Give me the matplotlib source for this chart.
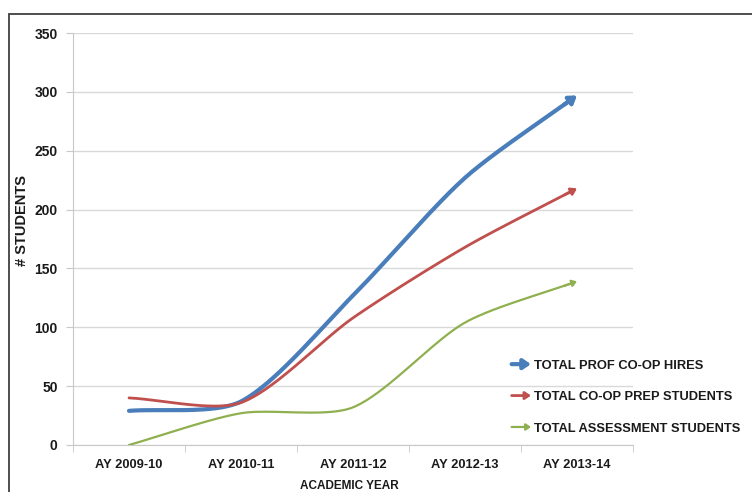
import numpy as np
import matplotlib
matplotlib.use("Agg")
import matplotlib.pyplot as plt
from matplotlib.patches import FancyArrowPatch, Rectangle
from matplotlib.legend_handler import HandlerBase

plt.rcParams['font.family'] = ['Liberation Sans', 'DejaVu Sans']

years = ["AY 2009-10", "AY 2010-11", "AY 2011-12", "AY 2012-13", "AY 2013-14"]
prof_hires = [29, 37, 127, 227, 297]
prep_students = [40, 36, 108, 168, 218]
assessment_students = [0, 27, 32, 104, 139]

series = [
    ("TOTAL PROF CO-OP HIRES", prof_hires, "#4a7ebb", 3.0, 13),
    ("TOTAL CO-OP PREP STUDENTS", prep_students, "#c0504d", 2.0, 10),
    ("TOTAL ASSESSMENT STUDENTS", assessment_students, "#8fb04f", 1.6, 8.5),
]

# pixel size of one category and one student on the axes, used for smoothing
X_PX, Y_PX = 112.0, 412.0 / 350


def smooth(xs, ys, k=0.8, steps=40):
    # bezier spline with chord-weighted tangents, worked out in pixel space
    p = np.column_stack([np.asarray(xs) * X_PX, np.asarray(ys) * Y_PX]).astype(float)
    n = len(p)
    d = np.hypot(*np.diff(p, axis=0).T)
    tan = np.zeros_like(p)
    for i in range(n):
        a, b = max(i - 1, 0), min(i + 1, n - 1)
        tan[i] = p[b] - p[a]
    out = []
    t = np.linspace(0, 1, steps)[:, None]
    for i in range(n - 1):
        p1, p2 = p[i], p[i + 1]
        if i == 0:
            c1 = p1 + k * (p2 - p1) / 3
        else:
            c1 = p1 + k * tan[i] * d[i] / (d[i - 1] + d[i]) / 3
        if i == n - 2:
            c2 = p2 - k * (p2 - p1) / 3
        else:
            c2 = p2 - k * tan[i + 1] * d[i] / (d[i] + d[i + 1]) / 3
        seg = ((1 - t) ** 3) * p1 + 3 * ((1 - t) ** 2) * t * c1 + 3 * (1 - t) * t ** 2 * c2 + t ** 3 * p2
        out.append(seg if i == 0 else seg[1:])
    out = np.vstack(out)
    return out[:, 0] / X_PX, out[:, 1] / Y_PX


def arrow_style(head):
    return "-|>,head_length=%.2f,head_width=%.2f" % (head / 30, head / 45)


class ArrowHandler(HandlerBase):
    def create_artists(self, legend, orig_handle, xdescent, ydescent,
                       width, height, fontsize, trans):
        color, lw, head = orig_handle
        y = height / 2 - ydescent
        a = FancyArrowPatch((-xdescent, y), (-xdescent + width, y),
                            arrowstyle=arrow_style(head), color=color, lw=lw,
                            mutation_scale=10, shrinkA=0, shrinkB=0, transform=trans)
        return [a]


fig = plt.figure(figsize=(7.52, 4.92), dpi=100)
fig.patches.append(Rectangle((9 / 752, -0.05), 1.0, 1 - 14 / 492 + 0.05,
                             transform=fig.transFigure, fill=False,
                             edgecolor="#404040", lw=1.3))

ax = fig.add_axes([73 / 752, 47 / 492, 560 / 752, 412 / 492])
x = np.arange(len(years))

handles = []
for name, vals, color, lw, head in series:
    sx, sy = smooth(x, vals)
    ax.plot(sx[:-3], sy[:-3], color=color, lw=lw, solid_capstyle="round", zorder=3)
    ax.annotate("", xy=(sx[-1], sy[-1]), xytext=(sx[-6], sy[-6]),
                arrowprops=dict(arrowstyle=arrow_style(head), color=color, lw=lw,
                                shrinkA=0, shrinkB=0, mutation_scale=10),
                zorder=4)
    handles.append((color, lw, head))

ax.set_xlim(-0.5, len(years) - 0.5)
ax.set_ylim(0, 350)
ax.set_yticks(np.arange(0, 351, 50))
ax.set_xticks(x)
ax.set_xticklabels(years, fontsize=9.3, fontweight="bold", color="#1a1a1a")
ax.set_xticks(np.arange(-0.5, len(years), 1), minor=True)
ax.tick_params(axis="x", which="major", length=0, pad=10)
ax.tick_params(axis="x", which="minor", length=5, color="#c8c8c8", direction="out")
ax.tick_params(axis="y", length=5, color="#c8c8c8", pad=6, labelsize=10)
for lab in ax.get_yticklabels():
    lab.set_fontweight("bold")
    lab.set_color("#1a1a1a")

ax.grid(axis="y", color="#d9d9d9", lw=1.0)
ax.set_axisbelow(True)
for side in ["top", "right"]:
    ax.spines[side].set_visible(False)
for side in ["left", "bottom"]:
    ax.spines[side].set_color("#c8c8c8")

fig.text(22 / 752, 1 - 221 / 492, "# STUDENTS", rotation=90, ha="center", va="center",
         fontsize=10.5, fontweight="bold", color="#1a1a1a")
fig.text(349 / 752, 1 - 486 / 492, "ACADEMIC YEAR", ha="center", va="center",
         fontsize=8.5, fontweight="bold", color="#1a1a1a")

leg = fig.legend(handles, [s[0] for s in series],
                 handler_map={tuple: ArrowHandler()},
                 loc="upper left", bbox_to_anchor=(500 / 752, 1 - 348 / 492),
                 frameon=False, handlelength=1.5, handletextpad=0.2,
                 labelspacing=1.5, prop={"size": 9.3, "weight": "bold"})
for t in leg.get_texts():
    t.set_color("#1a1a1a")

fig.savefig("out.png", dpi=100)
